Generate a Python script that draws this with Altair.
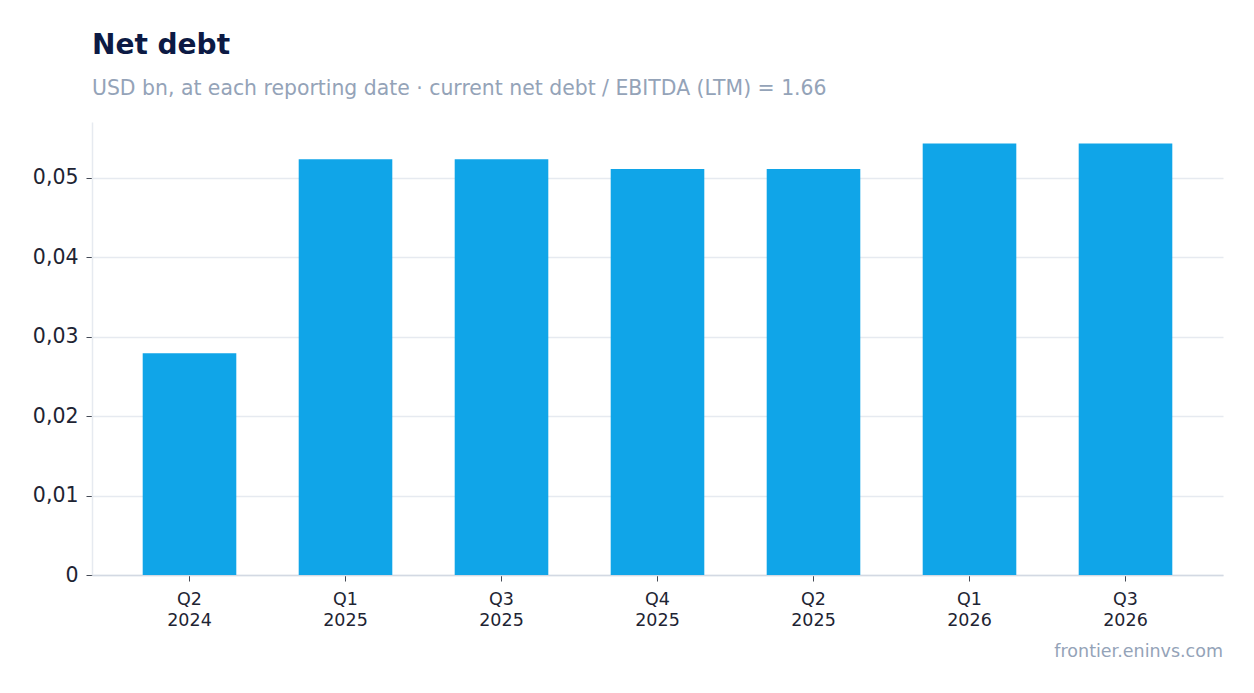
import altair as alt
import pandas as pd

periods = ["Q2 2024", "Q1 2025", "Q3 2025", "Q4 2025", "Q2 2025", "Q1 2026", "Q3 2026"]
net_debt = [0.0279, 0.0523, 0.0523, 0.0511, 0.0511, 0.0543, 0.0543]

df = pd.DataFrame({"period": periods, "value": net_debt})

W, H = 1131, 453
FONT = "DejaVu Sans"

bars = alt.Chart(df).mark_bar(color="#10a5e8").encode(
    x=alt.X(
        "period:N",
        sort=periods,
        scale=alt.Scale(paddingInner=0.4, paddingOuter=0.325),
        axis=alt.Axis(
            title=None,
            labelAngle=0,
            labelExpr="split(datum.label, ' ')",
            labelFontSize=17.5,
            labelColor="#1e2433",
            labelFont=FONT,
            labelPadding=9,
            tickColor="#444a55",
            tickSize=6,
            domainColor="#d3d9e3",
            domainWidth=1.5,
            grid=False,
            labelLineHeight=21,
        ),
    ),
    y=alt.Y(
        "value:Q",
        scale=alt.Scale(domain=[0, 0.057], nice=False),
        axis=alt.Axis(
            title=None,
            values=[0, 0.01, 0.02, 0.03, 0.04, 0.05],
            labelExpr="replace(format(datum.value, '.2~f'), '.', ',')",
            labelFontSize=20.5,
            labelColor="#1e2433",
            labelFont=FONT,
            labelPadding=8,
            tickColor="#444a55",
            tickSize=6,
            domainColor="#e6eaf0",
            domainWidth=1.5,
            gridColor="#e6eaf0",
            gridWidth=1.5,
        ),
    ),
)

footer = alt.Chart(pd.DataFrame({"t": ["frontier.eninvs.com"]})).mark_text(
    align="right", baseline="middle", fontSize=17.5, font=FONT, color="#94a3b8"
).encode(
    text="t:N",
    x=alt.value(W),
    y=alt.value(H + 77),
)

chart = (
    alt.layer(bars, footer)
    .properties(
        width=W,
        height=H,
        padding={"left": 24, "top": 23, "right": 22, "bottom": 5},
        title=alt.TitleParams(
            text="Net debt",
            subtitle="USD bn, at each reporting date · current net debt / EBITDA (LTM) = 1.66",
            anchor="start",
            frame="group",
            font=FONT,
            fontSize=28,
            fontWeight="bold",
            color="#0c1a44",
            subtitleFont=FONT,
            subtitleFontSize=20.4,
            subtitleColor="#94a3b8",
            subtitlePadding=19,
            offset=23,
        ),
    )
    .configure_view(stroke=None)
)

chart.save("out.html", embed_options={"renderer": "svg", "actions": False})
